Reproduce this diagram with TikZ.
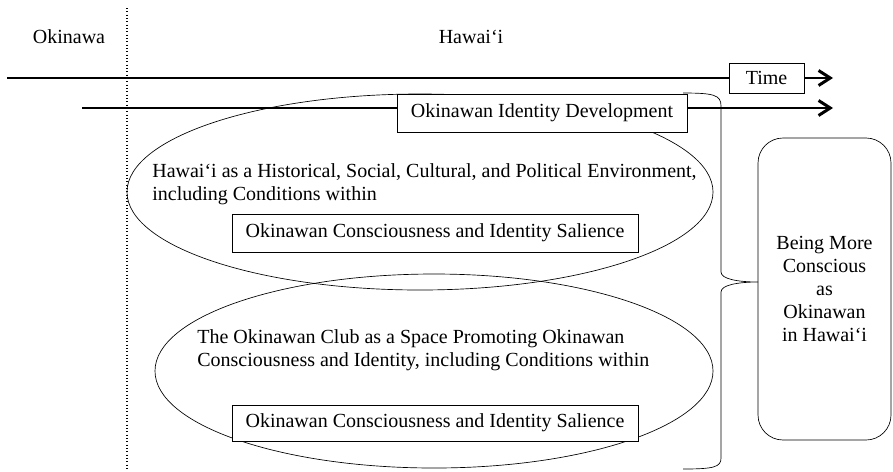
\documentclass[tikz,border=0pt]{standalone}
\usepackage{fontspec}
\setmainfont{Liberation Serif}
\usetikzlibrary{arrows.meta}

\begin{document}
\begin{tikzpicture}[x=0.6pt,y=-0.6pt,>={Straight Barb[length=7pt,width=9pt,line width=1.8pt]},
  every node/.style={font=\fontsize{12}{13.8}\selectfont},
  labelbox/.style={draw,fill=white,line width=0.6pt,inner sep=0pt},
  timeline/.style={line width=0.8pt}]
  \useasboundingbox (0,0) rectangle (893,471);
% places
  \node (okinawa) at (69,37) {Okinawa};
  \node (hawaii) at (471,37) {Hawai‘i};
  \draw[line width=0.7pt,dash pattern=on 0.6pt off 1.4pt] (127,8) -- (127,471);
% contexts
  \draw (420,192) ellipse [x radius=293, y radius=98];
  \draw (434,371) ellipse [x radius=279, y radius=97];
  \node[anchor=west,align=left,inner sep=0pt] (hawaiictx) at (152,184)
    {Hawai‘i as a Historical, Social, Cultural, and Political Environment,\\including Conditions within};
  \node[anchor=west,align=left,inner sep=0pt] (clubctx) at (197,350)
    {The Okinawan Club as a Space Promoting Okinawan\\Consciousness and Identity, including Conditions within};
  \node[labelbox,minimum width=243.6pt,minimum height=22.8pt] (salience1) at (435,233)
    {Okinawan Consciousness and Identity Salience};
  \node[labelbox,minimum width=243.6pt,minimum height=21.6pt] (salience2) at (435,423)
    {Okinawan Consciousness and Identity Salience};
% brace
  \draw (683,93) .. controls (714,93) and (721,95) .. (721,106) -- (721,272)
    .. controls (721,279) and (738,282) .. (758,282)
    .. controls (738,282) and (721,285) .. (721,292) -- (721,458)
    .. controls (721,467) and (714,469) .. (683,469);
  \node[draw,rounded corners=15pt,minimum width=79.8pt,minimum height=181.2pt,align=center]
    (outcome) at (824.5,289) {Being More\\Conscious\\as\\Okinawan\\in Hawai‘i};
% time lines
  \node[labelbox,minimum width=45pt,minimum height=18pt] (time) at (766.5,78) {Time};
  \coordinate (timestart) at (7,78);
  \coordinate (timeend) at (833,78);
  \draw[timeline] (timestart) -- (time.west);
  \draw[timeline,->] (time.east) -- (timeend);
  \node[labelbox,minimum width=174pt,minimum height=22.8pt] (identity) at (542,113)
    {Okinawan Identity Development};
  \coordinate (idstart) at (82,108);
  \coordinate (idend) at (833,108);
  \draw[timeline] (idstart) -- (idstart -| identity.west);
  \draw[timeline,->] (idstart -| identity.east) -- (idend);
\end{tikzpicture}
\end{document}
